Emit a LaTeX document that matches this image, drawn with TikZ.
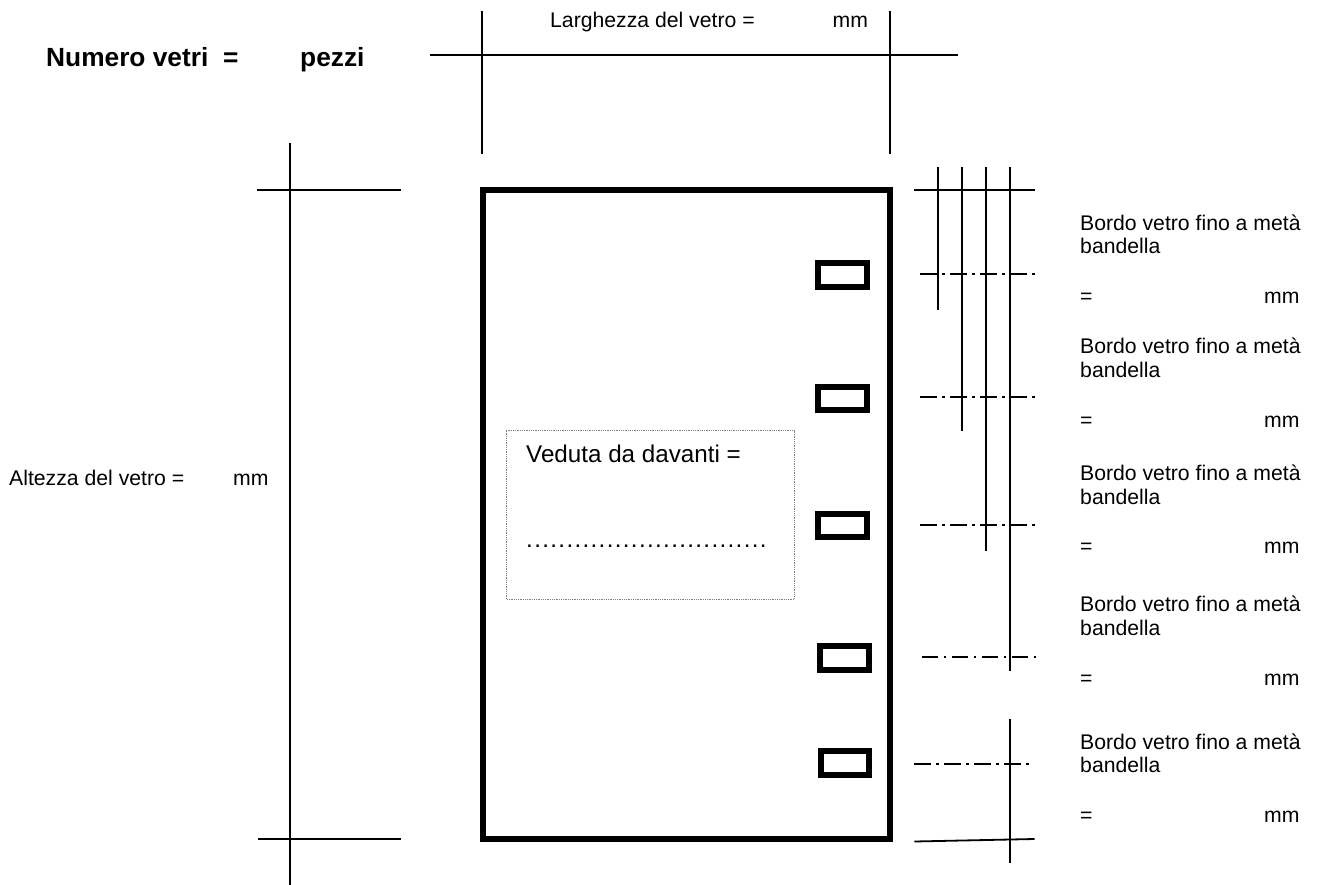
\documentclass[tikz,border=0pt]{standalone}
\usepackage{fontspec}
\setmainfont{Liberation Sans}
\begin{document}
\begin{tikzpicture}[x=1pt,y=-1pt,
  dimline/.style={line width=1.8pt,black},
  frameline/.style={line width=6pt,black,line join=miter},
  center/.style={line width=1.8pt,black,dash pattern=on 16.5pt off 5.5pt on 2.5pt off 5.5pt},
  label/.style={anchor=base west,inner sep=0pt,font=\fontsize{21.2}{21.2}\selectfont},
  biglabel/.style={anchor=base west,inner sep=0pt,font=\fontsize{24.2}{24.2}\selectfont},
  boldlabel/.style={anchor=base west,inner sep=0pt,font=\fontsize{26.3}{26.3}\selectfont\bfseries}]
\useasboundingbox (0,0) rectangle (1319,885);
\fill[white] (0,0) rectangle (1319,885);
% top dimension
\draw[dimline] (482,11)--(482,154);
\draw[dimline] (890,11)--(890,154);
\draw[dimline] (430,55)--(958,55);
% left dimension
\draw[dimline] (290,143)--(290,885);
\draw[dimline] (257,190)--(401,190);
\draw[dimline] (258,839)--(401,839);
% frame
\draw[frameline] (482.5,190.5) rectangle (890,839);
\draw[frameline] (818,263) rectangle (866.5,287);
\draw[frameline] (818,387) rectangle (866.5,410);
\draw[frameline] (818,514) rectangle (866.5,537);
\draw[frameline] (820,645.5) rectangle (868.5,670);
\draw[frameline] (820.5,751) rectangle (869,775);
% right dimensions
\draw[dimline] (914,190)--(1034.5,190);
\draw[dimline] (938,167)--(938,310);
\draw[dimline] (962,167)--(962,431);
\draw[dimline] (986,167)--(986,551);
\draw[dimline] (1010,167)--(1010,670.7);
\draw[dimline] (1010,719)--(1010,862.7);
\draw[dimline] (914.3,841.5)--(1034.5,839);
\draw[center] (920,274)--(1034.5,274);
\draw[center] (920,397)--(1034.5,397);
\draw[center] (920,525)--(1034.5,525);
\draw[center] (921.7,657)--(1036,657);
\draw[center] (914.3,764)--(1029,764);
% box
\draw[gray,line width=0.8pt,densely dotted] (506,430.7) rectangle (794.3,599);
\node[biglabel] (veduta) at (526,462.7) {Veduta da davanti =};
\node[biglabel] (dots) at (526,547) {\addfontfeature{LetterSpace=5.5}..............................};
% texts
\node[boldlabel] (numero) at (46,67) {Numero vetri};
\node[boldlabel] (uguale) at (223,67) {=};
\node[boldlabel] (pezzi) at (300,67) {pezzi};
\node[label] (larg) at (550,28) {Larghezza del vetro =};
\node[label] (largmm) at (832.5,28) {mm};
\node[label] (alt) at (9,485) {Altezza del vetro =};
\node[label] (altmm) at (233,485) {mm};
\foreach \i/\ya/\yb/\yc in {1/230.5/254/303.3,2/353.7/377.7/427.7,3/480/504/553.3,4/611/635.7/685,5/749/772.7/822.3}{
  \node[label] (b\i) at (1080,\ya) {Bordo vetro fino a metà};
  \node[label] (c\i) at (1080,\yb) {bandella};
  \node[label] (e\i) at (1080,\yc) {=};
  \node[label] (m\i) at (1264,\yc) {mm};
}
\end{tikzpicture}
\end{document}
